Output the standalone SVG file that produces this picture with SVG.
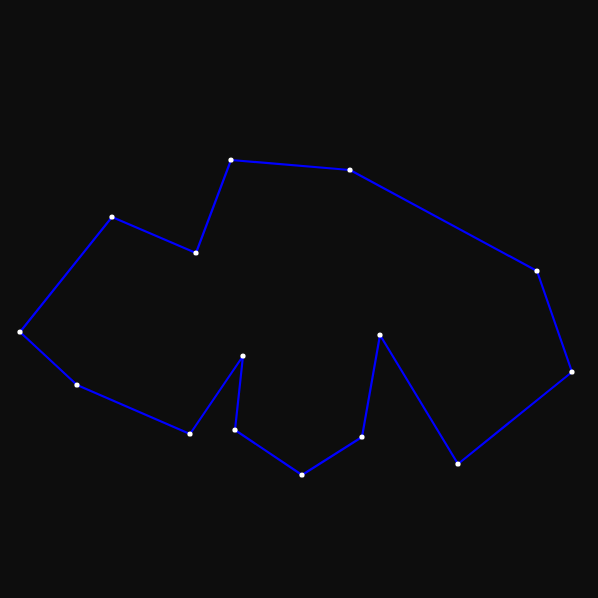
<svg xmlns="http://www.w3.org/2000/svg" width="598" height="598" viewBox="0 0 598 598">
<style>
.edge{fill:none;stroke:#0000ff;stroke-width:2.2;stroke-linejoin:round}
.pt{fill:#ffffff}
</style>
<rect width="598" height="598" fill="#0d0d0d"/>
<g id="connectors">
<polygon class="edge" points="231,160 350,170 537,271 572,372 458,464 380,335 362,437 302,475 235,430 243,356 190,434 77,385 20,332 112,217 196,253"/>
</g>
<g id="n1"><circle class="pt" cx="231" cy="160" r="2.6"/></g>
<g id="n2"><circle class="pt" cx="350" cy="170" r="2.6"/></g>
<g id="n3"><circle class="pt" cx="537" cy="271" r="2.6"/></g>
<g id="n4"><circle class="pt" cx="572" cy="372" r="2.6"/></g>
<g id="n5"><circle class="pt" cx="458" cy="464" r="2.6"/></g>
<g id="n6"><circle class="pt" cx="380" cy="335" r="2.6"/></g>
<g id="n7"><circle class="pt" cx="362" cy="437" r="2.6"/></g>
<g id="n8"><circle class="pt" cx="302" cy="475" r="2.6"/></g>
<g id="n9"><circle class="pt" cx="235" cy="430" r="2.6"/></g>
<g id="n10"><circle class="pt" cx="243" cy="356" r="2.6"/></g>
<g id="n11"><circle class="pt" cx="190" cy="434" r="2.6"/></g>
<g id="n12"><circle class="pt" cx="77" cy="385" r="2.6"/></g>
<g id="n13"><circle class="pt" cx="20" cy="332" r="2.6"/></g>
<g id="n14"><circle class="pt" cx="112" cy="217" r="2.6"/></g>
<g id="n15"><circle class="pt" cx="196" cy="253" r="2.6"/></g>
</svg>
